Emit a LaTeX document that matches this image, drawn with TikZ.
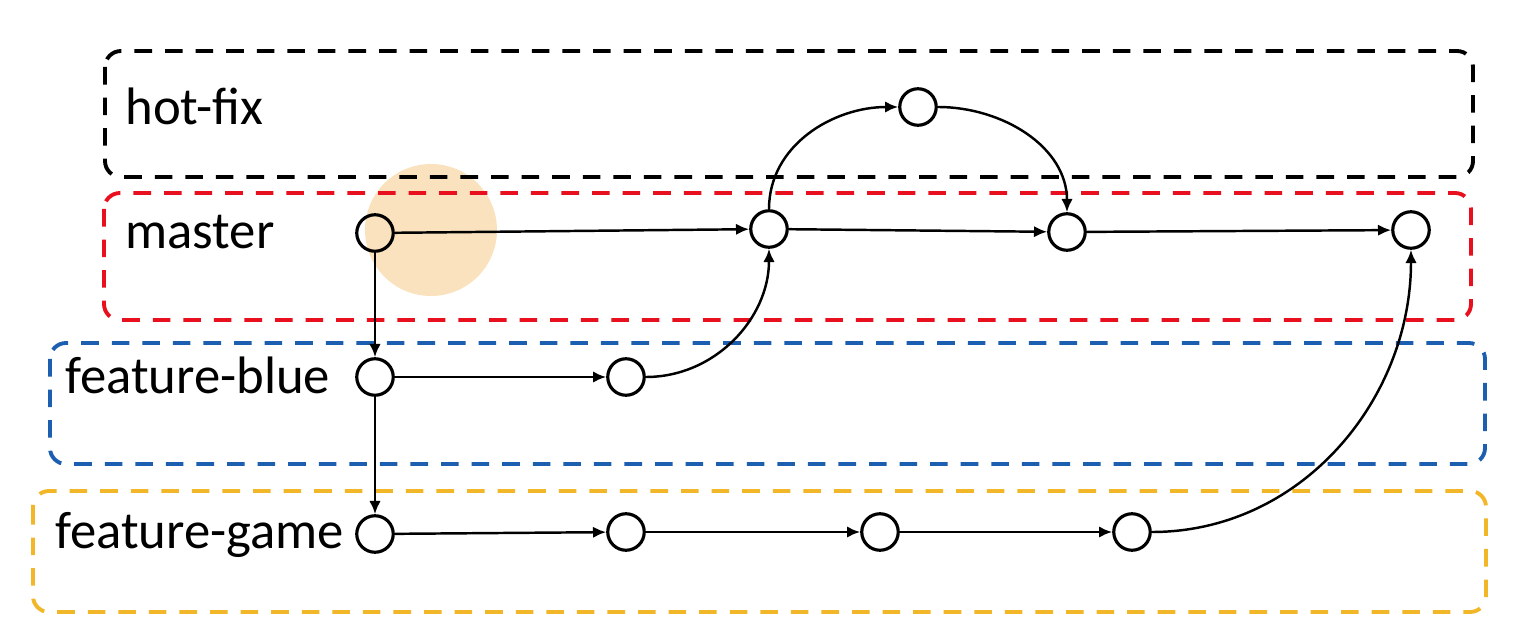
\documentclass[tikz,border=0pt]{standalone}
\usepackage{fontspec}
\setmainfont{Carlito}
\usepackage{tikz}
\usetikzlibrary{arrows.meta}

\definecolor{hotfixc}{RGB}{0,0,0}
\definecolor{masterc}{RGB}{232,16,30}
\definecolor{bluec}{RGB}{28,94,176}
\definecolor{gamec}{RGB}{242,183,40}
\definecolor{cursorc}{RGB}{251,226,190}

\begin{document}
\begin{tikzpicture}[
    x=0.02cm, y=-0.02cm,
    lane/.style={draw, line width=2.2pt, rounded corners=0.32cm, dash pattern=on 10pt off 7.4pt},
    commit/.style={circle, draw, line width=1.8pt, minimum size=0.73cm, inner sep=0pt},
    branchname/.style={anchor=base west, inner sep=0pt, font=\fontsize{30}{36}\selectfont},
    arrow/.style={-{Latex[length=7.5pt, width=6.5pt]}, line width=1.4pt}
  ]
    \useasboundingbox (0,0) rectangle (1529,635);

    % Cursor highlight
    \fill[cursorc] (431,230) circle[radius=66];

    % Lanes
    \draw[lane, draw=hotfixc] (105,51) rectangle (1473,177);
    \draw[lane, draw=masterc] (104,193) rectangle (1471,320);
    \draw[lane, draw=bluec] (50,343) rectangle (1485,464);
    \draw[lane, draw=gamec] (33,491) rectangle (1486,612);

    % Branch names
    \node[branchname] (hotfixname) at (125,125) {hot-fix};
    \node[branchname] (mastername) at (125,248) {master};
    \node[branchname] (bluename) at (65,393) {feature-blue};
    \node[branchname] (gamename) at (55,548) {feature-game};

    % hot-fix commit
    \node[commit] (h1) at (918,107) {};

    % master commits
    \node[commit] (m1) at (375,233) {};
    \node[commit] (m2) at (769,229) {};
    \node[commit] (m3) at (1067,232) {};
    \node[commit] (m4) at (1411,230) {};

    % feature-blue commits
    \node[commit] (b1) at (375,377) {};
    \node[commit] (b2) at (626,377) {};

    % feature-game commits
    \node[commit] (g1) at (375,534) {};
    \node[commit] (g2) at (626,532) {};
    \node[commit] (g3) at (880,532) {};
    \node[commit] (g4) at (1132,532) {};

    % Arrows - history
    \draw[arrow] (m1) -- (m2);
    \draw[arrow] (m2) -- (m3);
    \draw[arrow] (m3) -- (m4);
    \draw[arrow] (m1) -- (b1);
    \draw[arrow] (b1) -- (g1);
    \draw[arrow] (b1) -- (b2);
    \draw[arrow] (b2) to[out=0, in=-90] (m2);
    \draw[arrow] (m2) to[out=90, in=180] (h1);
    \draw[arrow] (h1) to[out=0, in=90] (m3);
    \draw[arrow] (g1) -- (g2);
    \draw[arrow] (g2) -- (g3);
    \draw[arrow] (g3) -- (g4);
    \draw[arrow] (g4) to[out=0, in=-90] (m4);

  \end{tikzpicture}
\end{document}
